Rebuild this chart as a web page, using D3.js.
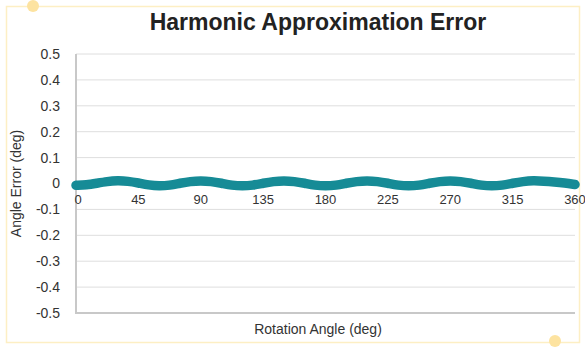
<!DOCTYPE html>
<html><head><meta charset="utf-8">
<script src="https://cdn.jsdelivr.net/npm/d3@7/dist/d3.min.js"></script>
<style>body{margin:0;background:#fff}svg{display:block}</style>
</head><body>
<script>
const angles = [0,7.5,15,22.5,30,37.5,45,52.5,60,67.5,75,82.5,90,97.5,105,112.5,120,127.5,135,142.5,150,157.5,165,172.5,180,187.5,195,202.5,210,217.5,225,232.5,240,247.5,255,262.5,270,277.5,285,292.5,300,307.5,315,322.5,330,337.5,345,352.5,360];
const errors = [-0.007,-0.006,0.001,0.008,0.011,0.009,0.002,-0.006,-0.010,-0.007,0.001,0.008,0.011,0.008,0.001,-0.007,-0.010,-0.007,0.001,0.008,0.011,0.008,0.001,-0.007,-0.010,-0.007,0.001,0.008,0.011,0.008,0.001,-0.007,-0.010,-0.007,0.001,0.008,0.011,0.008,0.001,-0.007,-0.010,-0.007,0.001,0.008,0.011,0.009,0.006,0.002,-0.004];
const xTicks = [0,45,90,135,180,225,270,315,360];
const yTicks = [0.5,0.4,0.3,0.2,0.1,0,-0.1,-0.2,-0.3,-0.4,-0.5];
const title = "Harmonic Approximation Error";
const xTitle = "Rotation Angle (deg)";
const yTitle = "Angle Error (deg)";

const W=585,H=349, L=76, R=575, T=54, B=313;
const svg=d3.select("body").append("svg").attr("width",W).attr("height",H);
const font="Helvetica, Arial, 'Liberation Sans', sans-serif";

// frame
svg.append("rect").attr("x",6.5).attr("y",6.5).attr("width",573).attr("height",336)
  .attr("fill","none").attr("stroke","#fdefc4").attr("stroke-width",1.5);
svg.append("circle").attr("cx",33).attr("cy",6).attr("r",6).attr("fill","#fde3a0");
svg.append("circle").attr("cx",555).attr("cy",341).attr("r",6).attr("fill","#fde3a0");

const x=d3.scaleLinear().domain([0,360]).range([L,R]);
const y=d3.scaleLinear().domain([-0.5,0.5]).range([B,T]);

// grid
svg.append("g").selectAll("line").data(yTicks).join("line")
  .attr("x1",L).attr("x2",R).attr("y1",d=>y(d)).attr("y2",d=>y(d))
  .attr("stroke",d=>d===-0.5?"#c8c8c8":"#dedede").attr("stroke-width",d=>d===-0.5?2:1);
svg.append("line").attr("x1",L).attr("x2",L).attr("y1",T).attr("y2",B+1)
  .attr("stroke","#c8c8c8").attr("stroke-width",2);

// y tick labels
svg.append("g").selectAll("text").data(yTicks).join("text")
  .attr("x",60).attr("y",d=>y(d)).attr("dy","0.35em").attr("text-anchor","end")
  .attr("font-family",font).attr("font-size",14).attr("fill","#333")
  .text(d=>d3.format("")(d).replace("−","-"));

// x tick labels
svg.append("g").selectAll("text").data(xTicks).join("text")
  .attr("x",d=>x(d)+(d===0?2:0)).attr("y",y(0)+16).attr("dy","0.35em").attr("text-anchor","middle")
  .attr("font-family",font).attr("font-size",13).attr("fill","#333").text(d=>d);

// line
svg.append("path").datum(angles.map((a,i)=>[a,errors[i]]))
  .attr("d",d3.line().x(d=>x(d[0])).y(d=>y(d[1])).curve(d3.curveBasis))
  .attr("fill","none").attr("stroke","#168b96").attr("stroke-width",9.5)
  .attr("stroke-linecap","round").attr("stroke-linejoin","round");

// titles
svg.append("text").attr("x",318).attr("y",30).attr("text-anchor","middle")
  .attr("font-family",font).attr("font-size",23).attr("font-weight","bold").attr("fill","#222").text(title);
svg.append("text").attr("x",318).attr("y",334).attr("text-anchor","middle")
  .attr("font-family",font).attr("font-size",14).attr("fill","#333").text(xTitle);
svg.append("text").attr("transform",`translate(21,${y(0)}) rotate(-90)`).attr("text-anchor","middle")
  .attr("font-family",font).attr("font-size",14).attr("fill","#333").text(yTitle);
</script>
</body></html>
